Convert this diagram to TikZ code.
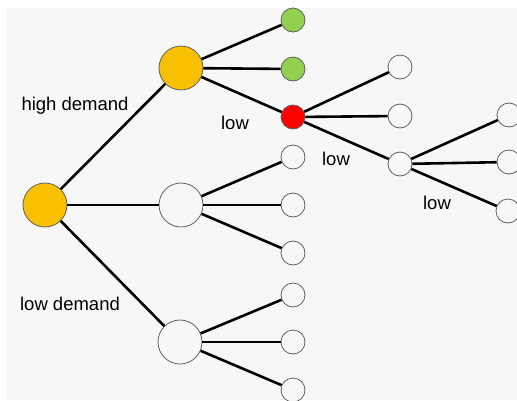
\documentclass[tikz,border=0pt]{standalone}
\usepackage{fontspec}
\setmainfont{Liberation Sans}
\definecolor{bg}{HTML}{F7F7F7}
\definecolor{gold}{HTML}{F8C000}
\definecolor{lgreen}{HTML}{92D050}
\definecolor{rim}{HTML}{606060}
\begin{document}
\begin{tikzpicture}[x=1pt,y=-1pt,
  big/.style={circle,draw=rim,line width=0.8pt,minimum size=44pt,inner sep=0pt},
  small/.style={circle,draw=rim,line width=0.8pt,minimum size=24pt,inner sep=0pt},
  conn/.style={line width=2.6pt,black},
  lbl/.style={font=\fontsize{18.5}{22}\selectfont,inner sep=0pt}]
\useasboundingbox (0,0) rectangle (517,400);
\fill[white] (0,0) rectangle (517,400);
\clip (0,0) rectangle (517,400);
\fill[bg] (7,8) rectangle (517,400);
% nodes
\node[big,fill=gold] (root) at (45,205) {};
\node[big,fill=gold] (hi) at (181,68) {};
\node[big,fill=bg] (mid) at (181,205) {};
\node[big,fill=bg] (lo) at (180,342) {};
\node[small,fill=lgreen] (g1) at (293,20) {};
\node[small,fill=lgreen] (g2) at (293,69) {};
\node[small,fill=red] (r) at (293,117) {};
\node[small,fill=bg] (m1) at (293,157) {};
\node[small,fill=bg] (m2) at (293,205) {};
\node[small,fill=bg] (m3) at (293,253) {};
\node[small,fill=bg] (l1) at (293,295) {};
\node[small,fill=bg] (l2) at (293,342) {};
\node[small,fill=bg] (l3) at (293,390) {};
\node[small,fill=bg] (r1) at (400,67) {};
\node[small,fill=bg] (r2) at (400,116) {};
\node[small,fill=bg] (r3) at (400,164) {};
\node[small,fill=bg] (s1) at (509,115) {};
\node[small,fill=bg] (s2) at (509,162) {};
\node[small,fill=bg] (s3) at (508,211) {};
% connectors
\foreach \a/\b in {root/hi,root/mid,root/lo,hi/g1,hi/g2,hi/r,mid/m1,mid/m2,mid/m3,lo/l1,lo/l2,lo/l3,r/r1,r/r2,r/r3,r3/s1,r3/s2,r3/s3}
  \draw[conn] (\a) -- (\b);
% labels
\node[lbl] (t1) at (75,106) {high demand};
\node[lbl] (t2) at (70,304) {low demand};
\node[lbl] (t3) at (235,123) {low};
\node[lbl] (t4) at (336,159) {low};
\node[lbl] (t5) at (437,203) {low};
\end{tikzpicture}
\end{document}
